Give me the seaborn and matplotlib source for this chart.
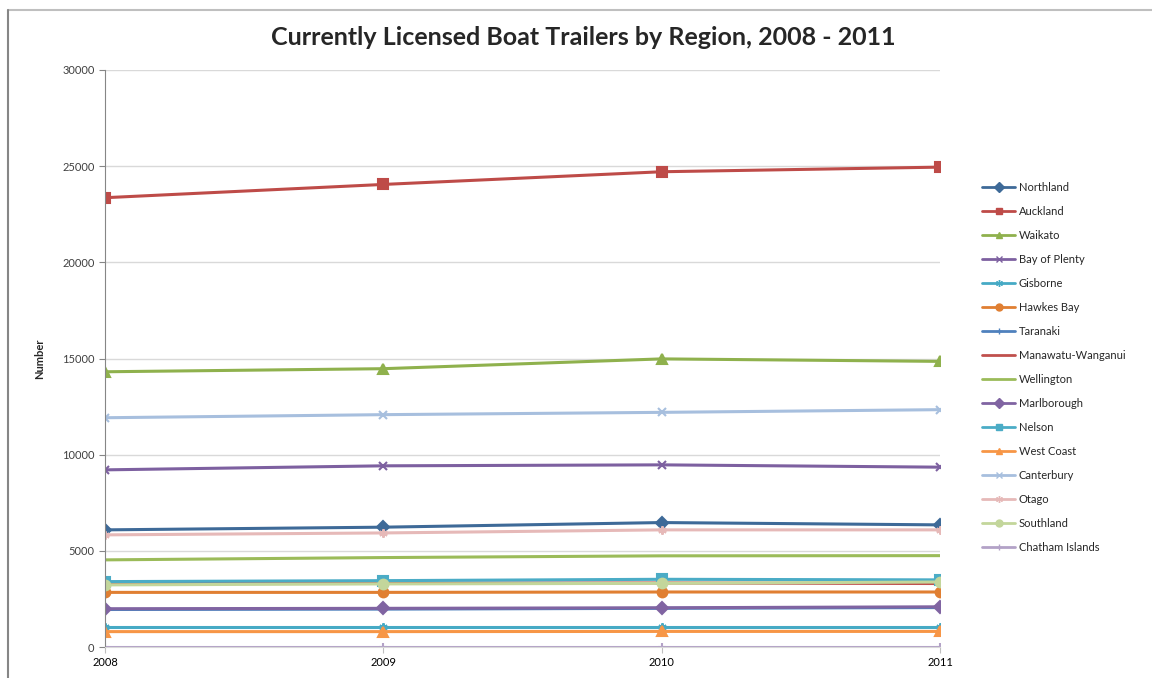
import matplotlib
matplotlib.use("Agg")
import matplotlib.pyplot as plt
import matplotlib.lines as mlines
import seaborn as sns

# data
years = [2008, 2009, 2010, 2011]
regions = ["Northland", "Auckland", "Waikato", "Bay of Plenty", "Gisborne",
           "Hawkes Bay", "Taranaki", "Manawatu-Wanganui", "Wellington",
           "Marlborough", "Nelson", "West Coast", "Canterbury", "Otago",
           "Southland", "Chatham Islands"]

northland = [6090, 6230, 6470, 6350]
auckland = [23360, 24050, 24710, 24950]
waikato = [14310, 14470, 14980, 14850]
bay_of_plenty = [9210, 9420, 9470, 9350]
gisborne = [1030, 1030, 1030, 1030]
hawkes_bay = [2840, 2840, 2860, 2860]
taranaki = [1950, 1970, 2010, 2050]
manawatu = [3290, 3320, 3330, 3300]
wellington = [4530, 4650, 4740, 4750]
marlborough = [1990, 2010, 2040, 2090]
nelson = [3400, 3450, 3520, 3490]
west_coast = [800, 800, 810, 810]
canterbury = [11920, 12080, 12200, 12340]
otago = [5830, 5930, 6090, 6090]
southland = [3230, 3280, 3310, 3380]
chatham = [20, 20, 20, 20]

values = [northland, auckland, waikato, bay_of_plenty, gisborne, hawkes_bay,
          taranaki, manawatu, wellington, marlborough, nelson, west_coast,
          canterbury, otago, southland, chatham]

colors = ["#3E6A98", "#BE4B48", "#8FB14D", "#7D60A0", "#46AAC5", "#E07F32",
          "#4F81BD", "#C0504D", "#9BBB59", "#8064A2", "#4BACC6", "#F79646",
          "#A7BFDE", "#E6B9B8", "#C3D69B", "#B3A2C7"]
markers = ["D", "s", "^", "x", (6, 2, 0), "o", "+", None, None,
           "D", "s", "^", "x", (6, 2, 0), "o", "+"]

sns.set_style("white")
plt.rcParams["font.family"] = ["Lato", "DejaVu Sans"]

fig = plt.figure(figsize=(11.52, 6.78), dpi=100)
ax = fig.add_axes([105 / 1152, 1 - 647 / 678, (940 - 105) / 1152, (647 - 70) / 678])

for name, vals, c, m in zip(regions, values, colors, markers):
    ms = 7 if m in ("s", "o", "^") else 6
    sns.lineplot(x=years, y=vals, ax=ax, color=c, marker=m, markersize=ms,
                 markeredgecolor=c, markeredgewidth=1.5, linewidth=2.2,
                 label=name, legend=False)

ax.set_xlim(2008, 2011)
ax.set_ylim(0, 30000)
ax.set_xticks(years)
ax.set_xticklabels([str(y) for y in years])
ax.set_yticks(range(0, 30001, 5000))
ax.yaxis.grid(True, color="#D9D9D9", linewidth=1)
ax.set_axisbelow(True)
for s in ["top", "right"]:
    ax.spines[s].set_visible(False)
ax.spines["left"].set_color("#868686")
ax.spines["bottom"].set_color("#D9D9D9")
ax.tick_params(axis="both", labelsize=8, length=4, direction="out",
               left=True, bottom=True)
ax.tick_params(axis="x", colors="#BFBFBF", labelcolor="#000000")
ax.tick_params(axis="y", colors="#868686", labelcolor="#404040")
ax.set_xlabel("")
ax.set_ylabel("Number", fontsize=8, fontweight="bold", labelpad=12)

fig.suptitle("Currently Licensed Boat Trailers by Region, 2008 - 2011",
             x=583 / 1152, y=1 - 26 / 678, fontsize=18, fontweight="bold")

handles = [mlines.Line2D([], [], color=c, marker=m, markersize=5,
                         markeredgecolor=c, linewidth=2)
           for c, m in zip(colors, markers)]
fig.legend(handles, regions, loc="upper left",
           bbox_to_anchor=(972 / 1152, 1 - 172 / 678), frameon=False,
           fontsize=8, labelspacing=1.17, handlelength=3.0, handletextpad=0.3)

# chart border (top and left edges)
fig.add_artist(mlines.Line2D([8 / 1152, 1], [1 - 10 / 678, 1 - 10 / 678],
                             color="#BFBFBF", linewidth=1.5))
fig.add_artist(mlines.Line2D([8 / 1152, 8 / 1152], [0, 1 - 10 / 678],
                             color="#868686", linewidth=1.5))

fig.savefig("out.png", dpi=100)
